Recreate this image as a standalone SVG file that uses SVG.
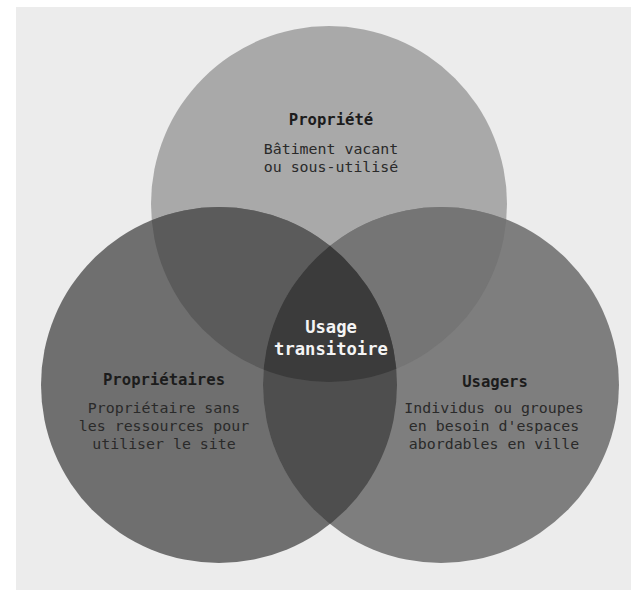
<svg xmlns="http://www.w3.org/2000/svg" width="631" height="590" viewBox="0 0 631 590">
  <style>
    .head { font-family: "DejaVu Sans Mono", "Liberation Mono", monospace; font-weight: bold; font-size: 15.6px; fill: #1c1c1c; text-anchor: middle; }
    .body { font-family: "DejaVu Sans Mono", "Liberation Mono", monospace; font-size: 14.9px; fill: #2a2a2a; text-anchor: middle; }
    .center { font-family: "DejaVu Sans Mono", "Liberation Mono", monospace; font-weight: bold; font-size: 17.2px; fill: #f4f4f4; text-anchor: middle; }
  </style>
  <defs>
    <clipPath id="cTop"><circle cx="329" cy="204" r="178"/></clipPath>
    <clipPath id="cLeft"><circle cx="219" cy="385" r="178"/></clipPath>
    <clipPath id="cRight"><circle cx="441" cy="385" r="178"/></clipPath>
  </defs>
  <rect x="0" y="0" width="631" height="590" fill="#ffffff"/>
  <rect x="16" y="7" width="615" height="583" fill="#ececec"/>

  <g id="propriete">
    <circle cx="329" cy="204" r="178" fill="#a9a9a9"/>
  </g>
  <g id="proprietaires">
    <circle cx="219" cy="385" r="178" fill="#6f6f6f"/>
  </g>
  <g id="usagers">
    <circle cx="441" cy="385" r="178" fill="#7e7e7e"/>
  </g>
  <g id="overlaps">
    <circle cx="219" cy="385" r="178" fill="#5b5b5b" clip-path="url(#cTop)"/>
    <circle cx="441" cy="385" r="178" fill="#757575" clip-path="url(#cTop)"/>
    <circle cx="441" cy="385" r="178" fill="#4e4e4e" clip-path="url(#cLeft)"/>
  </g>
  <g id="usage-transitoire">
    <g clip-path="url(#cLeft)">
      <circle cx="441" cy="385" r="178" fill="#3b3b3b" clip-path="url(#cTop)"/>
    </g>
    <text class="center" x="331" y="333">Usage</text>
    <text class="center" x="331" y="355">transitoire</text>
  </g>

  <g id="propriete-text">
    <text class="head" x="331" y="125">Propriété</text>
    <text class="body" x="331" y="154">Bâtiment vacant</text>
    <text class="body" x="331" y="172">ou sous-utilisé</text>
  </g>
  <g id="proprietaires-text">
    <text class="head" x="164" y="385">Propriétaires</text>
    <text class="body" x="164" y="413">Propriétaire sans</text>
    <text class="body" x="164" y="431">les ressources pour</text>
    <text class="body" x="164" y="449">utiliser le site</text>
  </g>
  <g id="usagers-text">
    <text class="head" x="495" y="387">Usagers</text>
    <text class="body" x="494" y="413">Individus ou groupes</text>
    <text class="body" x="494" y="431">en besoin d'espaces</text>
    <text class="body" x="494" y="449">abordables en ville</text>
  </g>
</svg>
